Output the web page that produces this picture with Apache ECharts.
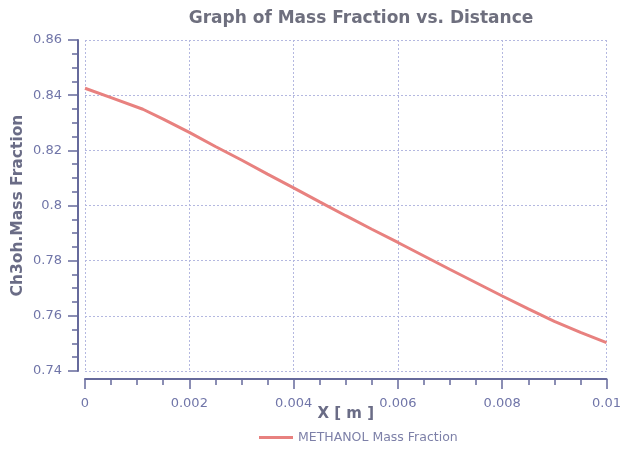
<!DOCTYPE html>
<html>
<head>
<meta charset="utf-8">
<script src="https://cdn.jsdelivr.net/npm/echarts@6/dist/echarts.min.js"></script>
<style>html,body{margin:0;padding:0;background:#fff}#c{width:624px;height:452px}</style>
</head>
<body>
<div id="c"></div>
<script>
const xValues = [0, 0.0005, 0.00111, 0.0015, 0.002, 0.0025, 0.003, 0.0035, 0.004, 0.0045, 0.005, 0.0055, 0.006, 0.0065, 0.007, 0.0075, 0.008, 0.0085, 0.009, 0.0095, 0.01];
const methanol = [0.8425, 0.8391, 0.8349, 0.8313, 0.8265, 0.8214, 0.8165, 0.8114, 0.8064, 0.8013, 0.7963, 0.7914, 0.7866, 0.7817, 0.7768, 0.7720, 0.7672, 0.7625, 0.7580, 0.7540, 0.7503];
const seriesName = 'METHANOL Mass Fraction';
const titleText = 'Graph of Mass Fraction vs. Distance';
const xName = 'X [ m ]';
const yName = 'Ch3oh.Mass Fraction';

const axisColor = '#666a9c';
const labelColor = '#7075a8';
const gridColor = '#b4b8e0';

const chart = echarts.init(document.getElementById('c'), null, {renderer: 'canvas'});
chart.setOption({
  animation: false,
  backgroundColor: '#ffffff',
  title: {
    text: titleText,
    left: 356, top: 5, textAlign: 'center',
    textStyle: {fontFamily: 'DejaVu Sans', fontWeight: 'bold', fontSize: 17, color: '#6e6f7e'}
  },
  legend: {
    data: [seriesName],
    bottom: 3, left: 254,
    itemWidth: 34, itemHeight: 3, itemGap: 8,
    icon: 'rect',
    textStyle: {fontFamily: 'DejaVu Sans', fontSize: 12.5, color: '#7d80a8'}
  },
  grid: {left: 85, right: 14, top: 40, bottom: 81, containLabel: false},
  xAxis: {
    type: 'value', min: 0, max: 0.01, interval: 0.002,
    offset: 8,
    name: xName, nameLocation: 'middle', nameGap: 28, nameMoveOverlap: false,
    nameTextStyle: {fontFamily: 'DejaVu Sans', fontWeight: 'bold', fontSize: 15, color: '#6a6c86'},
    axisLine: {show: true, onZero: false, lineStyle: {color: axisColor, width: 2}},
    axisTick: {show: true, inside: false, length: 10, lineStyle: {color: axisColor, width: 1.5}},
    minorTick: {show: true, splitNumber: 4, length: 6, lineStyle: {color: axisColor, width: 1.5}},
    axisLabel: {margin: 18, color: labelColor, fontFamily: 'DejaVu Sans', fontSize: 13,
      formatter: v => (v === 0 ? '0' : String(+v.toFixed(4)))},
    splitLine: {show: true, lineStyle: {color: gridColor, type: [2, 2], width: 1}}
  },
  yAxis: {
    type: 'value', min: 0.74, max: 0.86, interval: 0.02,
    offset: 7,
    name: yName, nameLocation: 'middle', nameGap: 52, nameRotate: 90, nameMoveOverlap: false,
    nameTextStyle: {fontFamily: 'DejaVu Sans', fontWeight: 'bold', fontSize: 15.5, color: '#6a6c86'},
    axisLine: {show: true, onZero: false, lineStyle: {color: axisColor, width: 2}},
    axisTick: {show: true, inside: false, length: 10, lineStyle: {color: axisColor, width: 1.5}},
    minorTick: {show: true, splitNumber: 4, length: 6, lineStyle: {color: axisColor, width: 1.5}},
    axisLabel: {margin: 16, color: labelColor, fontFamily: 'DejaVu Sans', fontSize: 13,
      formatter: v => String(+v.toFixed(2))},
    splitLine: {show: true, lineStyle: {color: gridColor, type: [2, 2], width: 1}}
  },
  series: [{
    name: seriesName,
    type: 'line',
    data: xValues.map((x, i) => [x, methanol[i]]),
    showSymbol: false,
    smooth: false,
    lineStyle: {color: '#e8817f', width: 3},
    itemStyle: {color: '#e8817f'}
  }]
});
</script>
</body>
</html>
